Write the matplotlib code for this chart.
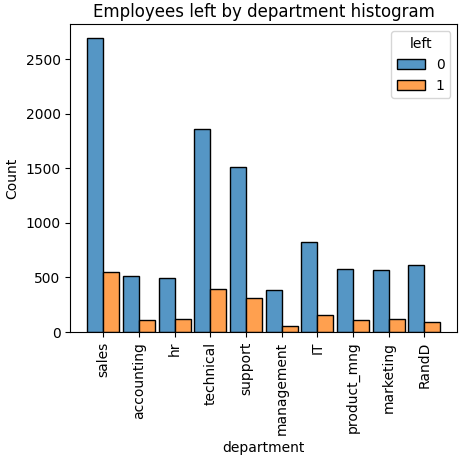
import matplotlib
matplotlib.use('Agg')
import matplotlib.pyplot as plt
import numpy as np

departments = ['sales', 'accounting', 'hr', 'technical', 'support', 'management',
               'IT', 'product_mng', 'marketing', 'RandD']
stayed = [2690, 510, 491, 1860, 1510, 382, 821, 574, 565, 611]
left = [547, 107, 116, 391, 309, 53, 158, 107, 116, 89]
legend_title = 'left'

fig = plt.figure(figsize=(4.61, 4.61), dpi=100)
ax = fig.add_axes([0.1525, 0.2798, 0.8395, 0.6675])

x = np.arange(len(departments))
w = 0.449
ax.bar(x - w / 2, stayed, w, color='#5596c5', edgecolor='black', linewidth=1, label='0')
ax.bar(x + w / 2, left, w, color='#ffa04f', edgecolor='black', linewidth=1, label='1')

ax.set_xticks(x)
ax.set_xticklabels(departments, rotation=90)
ax.set_xlim(-0.925, 9.925)
ax.set_ylim(0, 2818)
ax.set_xlabel('department', labelpad=4.5)
ax.set_ylabel('Count', labelpad=4.5)
ax.set_title('Employees left by department histogram', fontsize=12, pad=5.5)
ax.legend(title=legend_title, loc='upper right')

fig.savefig('out.png', dpi=100)
